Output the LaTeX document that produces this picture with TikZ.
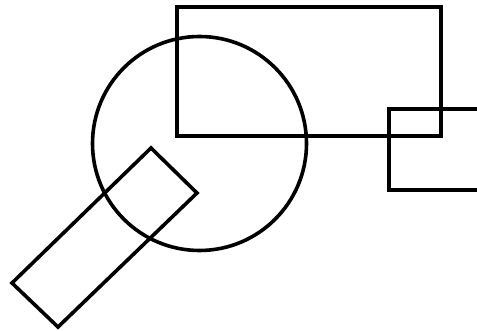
\documentclass[tikz,border=0pt]{standalone}
\begin{document}
\begin{tikzpicture}[x=1pt,y=-1pt,outline/.style={draw=black,line width=3.6pt,line join=miter}]
\useasboundingbox (0,0) rectangle (477,331);
\clip (0,0) rectangle (477,331);
\draw[outline] (177,7) rectangle (441,136);
\draw[outline] (199.5,143.5) circle[radius=107];
\draw[outline] (389,109) rectangle (500,190);
\draw[outline] (151,148) -- (197,193) -- (58,327) -- (12,283) -- cycle;
\end{tikzpicture}
\end{document}
